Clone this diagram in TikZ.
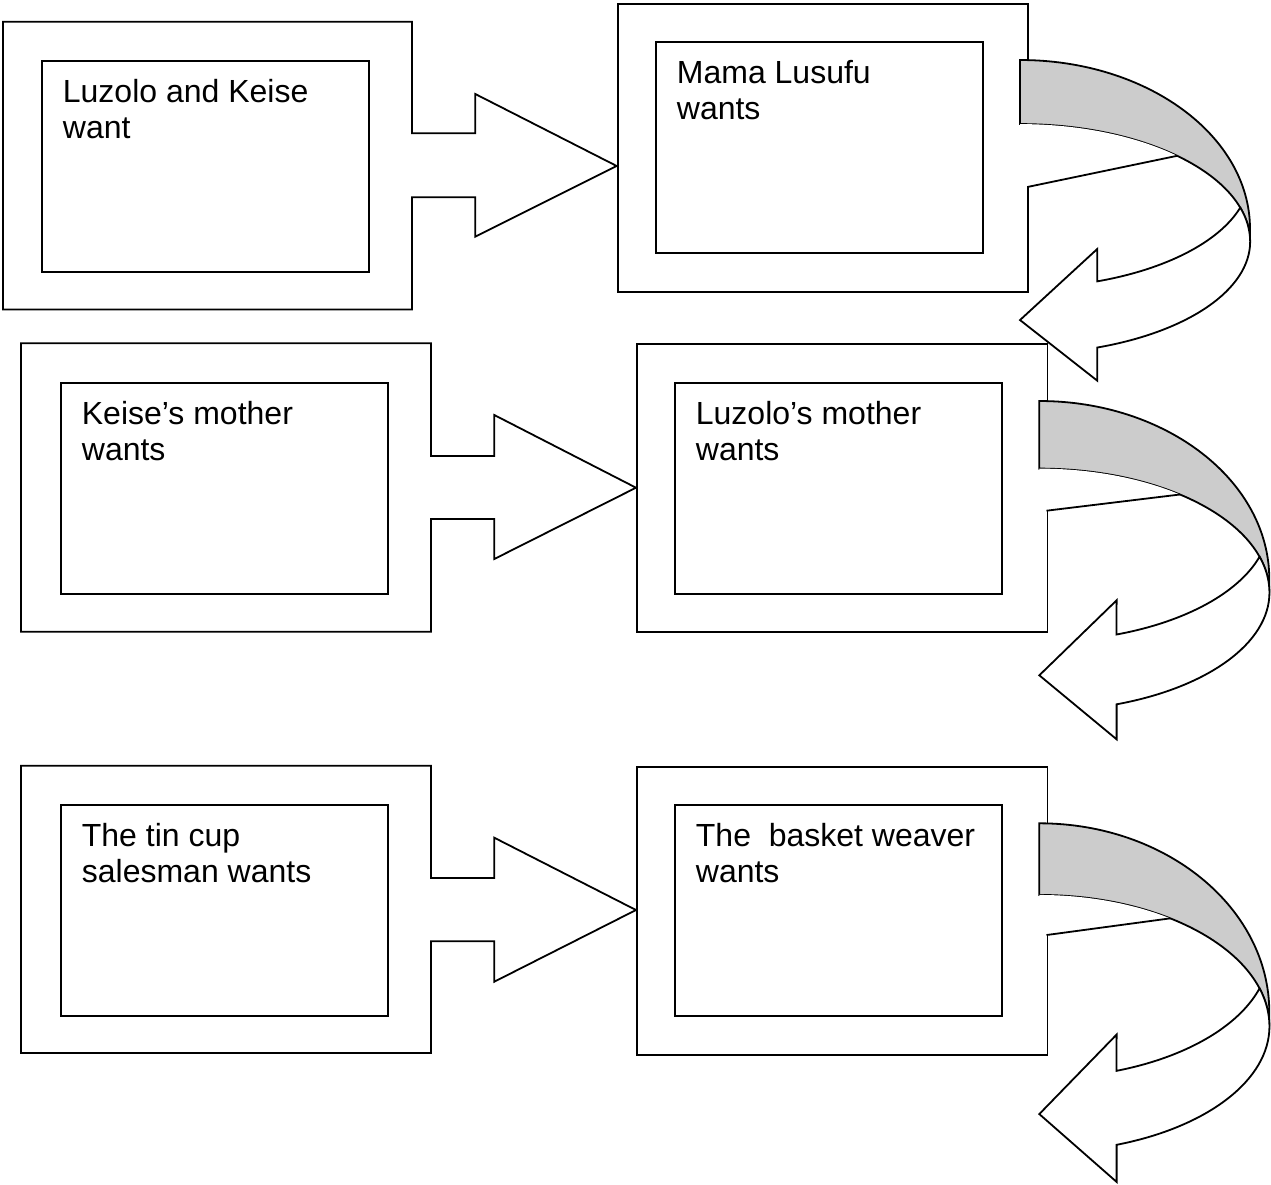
\documentclass[tikz,border=0pt]{standalone}
\usepackage{fontspec}
\setmainfont{Liberation Sans}
\usetikzlibrary{positioning}

\begin{document}
\begin{tikzpicture}[x=1pt, y=1pt, line width=1.8pt,
    inbox/.style={draw, anchor=north west, inner sep=0pt, minimum width=327pt, minimum height=211pt},
    outbox/.style={draw, anchor=north west, inner sep=0pt, minimum width=410.5pt, minimum height=288pt},
    txt/.style={align=left, inner sep=0pt, font=\fontsize{32}{36}\selectfont},
    back/.style={draw, fill=black!20},
    front/.style={draw, fill=white}]
  \useasboundingbox[fill=white] (0,0) rectangle (1271,-1184);

  % left boxes with their arrows
  \draw (412,-133.3) -- (412,-21.7) -- (3,-21.7) -- (3,-309.5) -- (412,-309.5) -- (412,-197.3)
    -- (475.3,-197.3) -- (475.3,-236.7) -- (616.7,-166) -- (475.3,-94) -- (475.3,-133.3) -- cycle;
  \draw (431,-456) -- (431,-343.3) -- (21,-343.3) -- (21,-631.7) -- (431,-631.7) -- (431,-519)
    -- (494.3,-519) -- (494.3,-559) -- (636,-487.7) -- (494.3,-415) -- (494.3,-456) -- cycle;
  \draw (431,-878) -- (431,-765.7) -- (21,-765.7) -- (21,-1053) -- (431,-1053) -- (431,-941.3)
    -- (494.3,-941.3) -- (494.3,-981.7) -- (636,-910) -- (494.3,-837.7) -- (494.3,-878) -- cycle;

  % right boxes
  \node[outbox] (mlbox) at (616.7,-2.7) {};
  \node[outbox] (lmbox) at (636,-343.3) {};
  \node[outbox] (bwbox) at (636,-765.7) {};

  % inner boxes and texts
  \node[inbox] (lk) at (41,-60) {};
  \node[inbox] (ml) at (655,-40.7) {};
  \node[inbox] (km) at (60,-381.7) {};
  \node[inbox] (lm) at (674,-381.7) {};
  \node[inbox] (tc) at (60,-804) {};
  \node[inbox] (bw) at (674,-804) {};

  \node[txt, below right=18.5pt and 21pt of lk.north west] (lktext) {Luzolo and Keise\\want};
  \node[txt, below right=18.5pt and 21pt of ml.north west] (mltext) {Mama Lusufu\\wants};
  \node[txt, below right=18.5pt and 21pt of km.north west] (kmtext) {Keise’s mother\\wants};
  \node[txt, below right=18.5pt and 21pt of lm.north west] (lmtext) {Luzolo’s mother\\wants};
  \node[txt, below right=18.5pt and 21pt of tc.north west] (tctext) {The tin cup\\salesman wants};
  \node[txt, below right=18.5pt and 21pt of bw.north west] (bwtext) {The~ basket weaver\\wants};

  % curved arrows on the right
  \foreach \ax/\ay/\s/\b/\e in {1020/60/0.948/134/46.9, 1039.3/401/1/109.7/52.3, 1039.3/823.3/1.06/105.4/55.3} {
    \begin{scope}[shift={(\ax,-\ay)}, yscale=\s]
      \draw[back] (0,0) arc[start angle=90, end angle=0, x radius=230, y radius=178.3]
        -- (230,-191.6) arc[start angle=0, end angle=90, x radius=230, y radius=124] -- cycle;
      \fill[white] (0,-67.6) arc[start angle=90, end angle=\e, x radius=230, y radius=124]
        -- (7.2,-\b) -- (0,-\b) -- cycle;
      \draw ({230*cos(\e)},{-191.6+124*sin(\e)}) -- (7.2,-\b);
      \draw[front] (220.2,-155.8) arc[start angle=-16.8, end angle=-70.4, x radius=230, y radius=119]
        -- (77.3,-199.3) -- (0,-274.3) -- (77.3,-338.3) -- (77.3,-303.3)
        arc[start angle=-70.4, end angle=0, x radius=230, y radius=118.6]
        arc[start angle=0, end angle=16.8, x radius=230, y radius=124] -- cycle;
    \end{scope}
  }
\end{tikzpicture}
\end{document}
